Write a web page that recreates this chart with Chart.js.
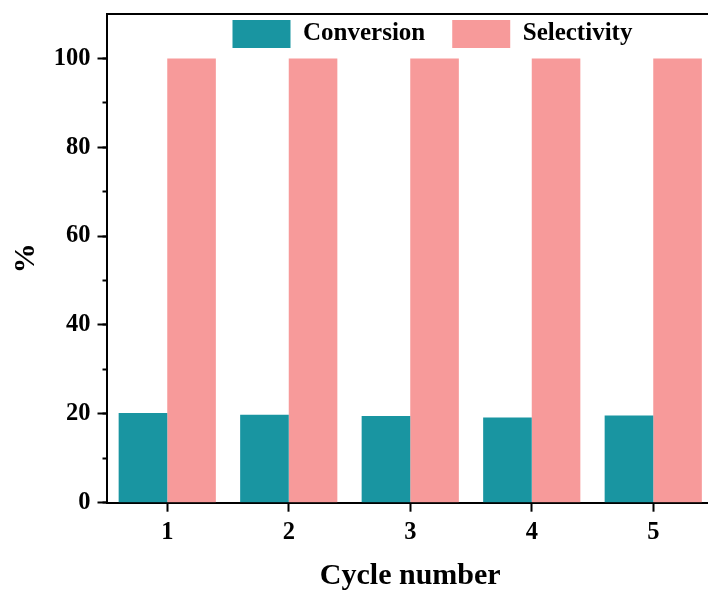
<!DOCTYPE html>
<html>
<head>
<meta charset="utf-8">
<script src="https://cdn.jsdelivr.net/npm/chart.js@4.4.1/dist/chart.umd.min.js"></script>
<style>
  html, body { margin: 0; padding: 0; overflow: hidden; background: #fff; width: 708px; height: 594px; }
  canvas { display: block; }
</style>
</head>
<body>
<canvas id="c" width="716" height="594" style="width:716px;height:594px"></canvas>
<script>
const categories = ['1', '2', '3', '4', '5'];
const conversion = [20.2, 19.8, 19.5, 19.2, 19.6];
const selectivity = [100, 100, 100, 100, 100];
const seriesNames = ['Conversion', 'Selectivity'];
const seriesColors = ['#1995A1', '#F79A9A'];
const yMin = 0, yMax = 110, yMajorStep = 20, yMinorStep = 10;
const xTitle = 'Cycle number';
const yTitle = '%';

const FONT = '"Liberation Serif", "Times New Roman", serif';
Chart.defaults.font.family = FONT;
Chart.defaults.font.weight = 'bold';
Chart.defaults.color = '#000';

// Place the (zero-height) top legend inside the plot frame, as in the reference.
const legendShift = {
  id: 'legendShift',
  afterUpdate(chart) {
    const l = chart.legend, a = chart.chartArea;
    if (!l) return;
    l.left = a.left + 99;
    l.right = l.left + (a.right - a.left);
    l.top = a.top - 21;
    l.bottom = l.top + 90;
  }
};

new Chart(document.getElementById('c'), {
  type: 'bar',
  data: {
    labels: categories,
    datasets: [
      { label: seriesNames[0], data: conversion, backgroundColor: seriesColors[0], borderWidth: 0 },
      { label: seriesNames[1], data: selectivity, backgroundColor: seriesColors[1], borderWidth: 0 }
    ]
  },
  options: {
    responsive: false,
    animation: false,
    devicePixelRatio: 1,
    categoryPercentage: 0.8,
    barPercentage: 1.0,
    layout: { padding: { left: 0, right: 2, top: 14, bottom: 0 } },
    plugins: {
      tooltip: { enabled: false },
      legend: {
        position: 'top',
        align: 'start',
        maxHeight: 0.001,
        labels: {
          boxWidth: 58,
          boxHeight: 28,
          padding: 27,
          font: { size: 25, weight: 'bold', family: FONT },
          color: '#000'
        }
      }
    },
    scales: {
      x: {
        type: 'category',
        position: 'bottom',
        offset: true,
        grid: { display: true, drawOnChartArea: false, drawTicks: true, tickLength: 9, tickWidth: 2, tickColor: '#000', offset: false },
        border: { display: true, color: '#000', width: 2 },
        ticks: { font: { size: 24.5, weight: 'bold', family: FONT }, color: '#000', padding: 6 },
        title: { display: true, text: xTitle, font: { size: 30, weight: 'bold', family: FONT }, color: '#000', padding: { top: 0, bottom: 0 } },
        afterFit(s) { s.height = 91.3; s.paddingLeft = 0; s.paddingRight = 0; }
      },
      xTop: {
        type: 'category',
        position: 'top',
        labels: categories,
        offset: true,
        grid: { display: false, drawOnChartArea: false, drawTicks: false },
        border: { display: true, color: '#000', width: 2 },
        ticks: { display: false },
        afterFit(s) { s.height = 0; s.paddingLeft = 0; s.paddingRight = 0; }
      },
      y: {
        type: 'linear',
        position: 'left',
        weight: 1,
        min: yMin,
        max: yMax,
        grid: { display: true, drawOnChartArea: false, drawTicks: true, tickLength: 9, tickWidth: 2, tickColor: '#000' },
        border: { display: true, color: '#000', width: 2 },
        ticks: { stepSize: yMajorStep, includeBounds: false, font: { size: 24.5, weight: 'bold', family: FONT }, color: '#000', padding: 7 },
        title: { display: true, text: yTitle, font: { size: 30, weight: 'bold', family: FONT }, color: '#000', padding: { top: 8, bottom: 0 } },
        afterFit(s) { s.width = 106.5; s.paddingTop = 0; s.paddingBottom = 0; }
      },
      yMinor: {
        type: 'linear',
        position: 'left',
        weight: 0,
        min: yMin,
        max: yMax,
        grid: {
          display: true, drawOnChartArea: false, drawTicks: true, tickLength: 4, tickWidth: 2,
          tickColor: (ctx) => (ctx.tick && ctx.tick.value >= yMax) ? 'rgba(0,0,0,0)' : '#000'
        },
        border: { display: false },
        ticks: { display: false, stepSize: yMinorStep },
        afterFit(s) { s.width = 0; s.paddingTop = 0; s.paddingBottom = 0; }
      }
    }
  },
  plugins: [legendShift]
});
</script>
</body>
</html>
